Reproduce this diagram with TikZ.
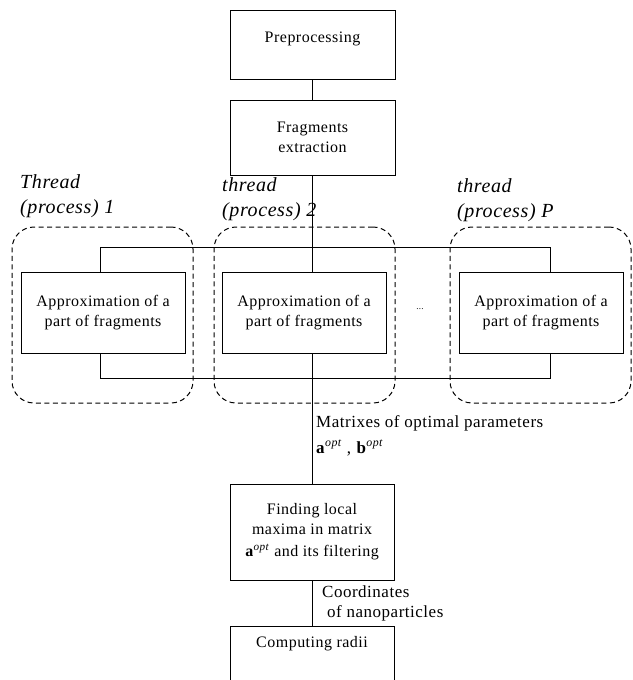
\documentclass[tikz,border=0pt]{standalone}
\usepackage{fontspec}
\setmainfont{Liberation Serif}[LetterSpace=3]
\begin{document}
\begin{tikzpicture}[x=1pt,y=-1pt,
  box/.style={draw, line width=0.9pt, inner sep=2pt, align=center, font=\fontsize{16}{20}\selectfont},
  grp/.style={draw, dash pattern=on 5pt off 3.5pt, rounded corners=22pt, line width=1pt, inner sep=0pt},
  thr/.style={font=\fontsize{20}{25}\selectfont\itshape, align=left, anchor=base west, inner sep=0pt},
  lbl/.style={font=\fontsize{17}{26}\selectfont, align=left, anchor=base west, inner sep=0pt},
  wire/.style={line width=0.9pt}]
\useasboundingbox (0,0) rectangle (632,680);
% boxes
\node[box, minimum width=165, minimum height=69, text depth=14pt] (pre) at (312.5,44.5) {Preprocessing};
\node[box, minimum width=165, minimum height=75] (frag) at (312.5,137.5) {Fragments\\extraction};
\node[box, minimum width=164, minimum height=81] (app1) at (103,312.5) {Approximation of a\\part of fragments};
\node[box, minimum width=164, minimum height=81] (app2) at (304,312.5) {Approximation of a\\part of fragments};
\node[box, minimum width=164, minimum height=81] (app3) at (541,312.5) {Approximation of a\\part of fragments};
\node[box, minimum width=164, minimum height=96] (find) at (312,532) {Finding local\\maxima in matrix\\[2pt]\textbf{a}\textsuperscript{\textit{opt}} and its filtering};
\node[box, minimum width=164, minimum height=90, anchor=north] (comp) at (312,626) {};
\node[font=\fontsize{16}{20}\selectfont, inner sep=0pt] (compt) at (312,644) {Computing radii};
% dashed thread groups
\node[grp, minimum width=181, minimum height=176] (g1) at (102.5,315) {};
\node[grp, minimum width=181, minimum height=176] (g2) at (304.5,315) {};
\node[grp, minimum width=181, minimum height=176] (g3) at (540.5,315) {};
% thread labels
\node[thr] (t1) at (20,213) {Thread\\(process) 1};
\node[thr] (t2) at (222,216) {thread\\(process) 2};
\node[thr] (t3) at (457,217) {thread\\(process) P};
\node[font=\fontsize{9}{9}\selectfont, inner sep=0pt] (dots) at (420,309) {...};
% bus coordinates
\coordinate (bt1) at (100,247);
\coordinate (bt3) at (550,247);
\coordinate (bb1) at (100,378);
\coordinate (bb3) at (550,378);
% wires
\draw[wire] (pre.south) -- (frag.north);
\draw[wire] (frag.south) -- (frag.south |- app2.north);
\draw[wire] (bt1 |- app1.north) -- (bt1) -- (bt3) -- (bt3 |- app3.north);
\draw[wire] (bb1 |- app1.south) -- (bb1) -- (bb3) -- (bb3 |- app3.south);
\draw[wire] (frag.south |- app2.south) -- (frag.south |- find.north);
\draw[wire] (find.south) -- (comp.north);
% edge labels
\node[lbl] (m1) at (316,453) {Matrixes of optimal parameters\\\textbf{a}\textsuperscript{\textit{opt}} , \textbf{b}\textsuperscript{\textit{opt}}};
\node[lbl, font=\fontsize{17}{20}\selectfont] (c1) at (322,617) {Coordinates\\\hspace{5pt}of nanoparticles};
\end{tikzpicture}
\end{document}
